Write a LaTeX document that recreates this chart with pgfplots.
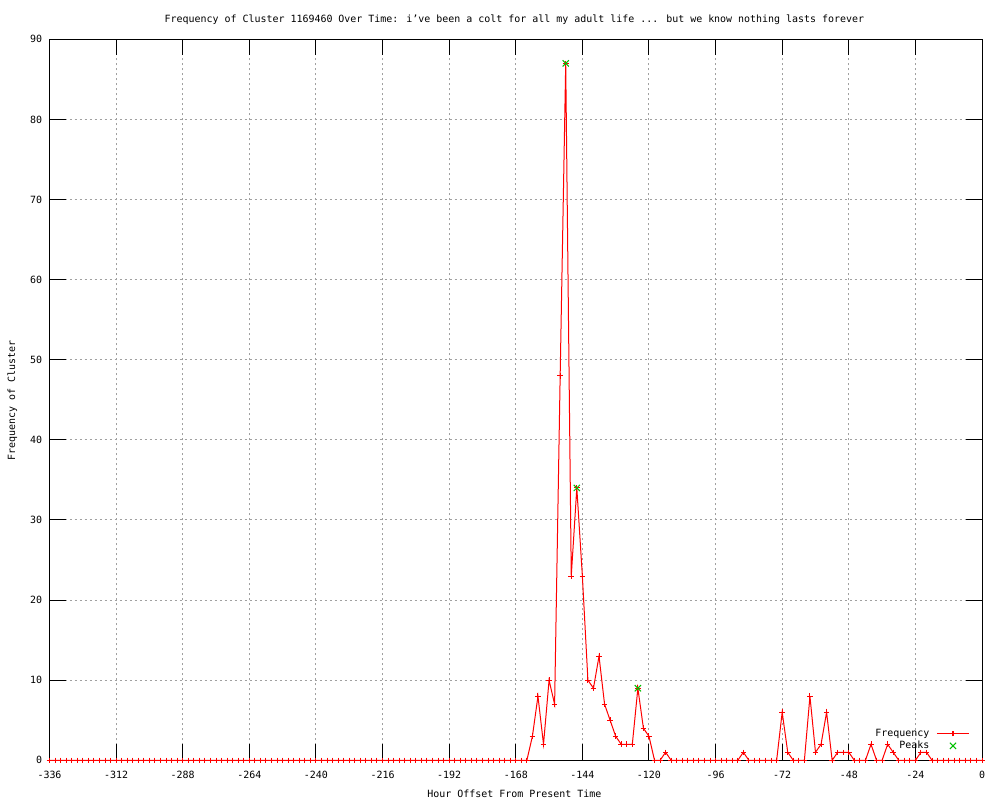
\documentclass[border=0pt]{standalone}
\usepackage{fontspec}
\setmainfont{DejaVu Sans Mono}
\usepackage{pgfplots}
\pgfplotsset{compat=1.18}
\usepackage{pgfplotstable}
\definecolor{gpred}{RGB}{255,0,0}
\definecolor{gpgreen}{RGB}{0,192,0}
\definecolor{gpgrid}{RGB}{160,160,160}
\newcommand\gp{\fontsize{4.98pt}{6pt}\selectfont}

\pgfplotstableread{
x y
-336 0
-334 0
-332 0
-330 0
-328 0
-326 0
-324 0
-322 0
-320 0
-318 0
-316 0
-314 0
-312 0
-310 0
-308 0
-306 0
-304 0
-302 0
-300 0
-298 0
-296 0
-294 0
-292 0
-290 0
-288 0
-286 0
-284 0
-282 0
-280 0
-278 0
-276 0
-274 0
-272 0
-270 0
-268 0
-266 0
-264 0
-262 0
-260 0
-258 0
-256 0
-254 0
-252 0
-250 0
-248 0
-246 0
-244 0
-242 0
-240 0
-238 0
-236 0
-234 0
-232 0
-230 0
-228 0
-226 0
-224 0
-222 0
-220 0
-218 0
-216 0
-214 0
-212 0
-210 0
-208 0
-206 0
-204 0
-202 0
-200 0
-198 0
-196 0
-194 0
-192 0
-190 0
-188 0
-186 0
-184 0
-182 0
-180 0
-178 0
-176 0
-174 0
-172 0
-170 0
-168 0
-166 0
-164 0
-162 3
-160 8
-158 2
-156 10
-154 7
-152 48
-150 87
-148 23
-146 34
-144 23
-142 10
-140 9
-138 13
-136 7
-134 5
-132 3
-130 2
-128 2
-126 2
-124 9
-122 4
-120 3
-118 0
-116 0
-114 1
-112 0
-110 0
-108 0
-106 0
-104 0
-102 0
-100 0
-98 0
-96 0
-94 0
-92 0
-90 0
-88 0
-86 1
-84 0
-82 0
-80 0
-78 0
-76 0
-74 0
-72 6
-70 1
-68 0
-66 0
-64 0
-62 8
-60 1
-58 2
-56 6
-54 0
-52 1
-50 1
-48 1
-46 0
-44 0
-42 0
-40 2
-38 0
-36 0
-34 2
-32 1
-30 0
-28 0
-26 0
-24 0
-22 1
-20 1
-18 0
-16 0
-14 0
-12 0
-10 0
-8 0
-6 0
-4 0
-2 0
0 0
}\freqdata

\pgfplotstableread{
x y
-150 87
-146 34
-124 9
}\peakdata

\begin{document}
\begin{tikzpicture}[font=\gp]
\path[use as bounding box] (0,0) rectangle (500pt,400pt);
\begin{axis}[
  at={(24.75pt,19.85pt)}, anchor=south west,
  scale only axis, width=466.25pt, height=360.5pt,
  xmin=-336, xmax=0, ymin=0, ymax=90,
  xtick={-336,-312,...,0},
  xticklabels={-336,-312,-288,-264,-240,-216,-192,-168,-144,-120,-96,-72,-48,-24,0},
  ytick={0,10,...,90},
  yticklabels={0,10,20,30,40,50,60,70,80,90},
  tick align=inside, major tick length=8pt,
  tick style={black, line width=0.5pt},
  axis line style={black, line width=0.5pt},
  grid=major,
  major grid style={gpgrid, line width=0.5pt, dash pattern=on 1pt off 1.5pt},
  xticklabel style={font=\gp, anchor=base, inner sep=0pt, yshift=-9pt},
  yticklabel style={font=\gp, anchor=east, inner sep=0pt, xshift=-3.5pt},
  clip=false,
  legend plot pos=right,
  legend cell align=right,
  legend style={font=\gp, draw=none, fill=none, at={(0.9871,0.0135)}, anchor=south east,
    inner sep=0pt, row sep=1.8pt, column sep=3.5pt,
    nodes={inner sep=0pt, text height=3.7pt, text depth=0.6pt}},
]
\addplot[color=gpred, line width=0.5pt, mark=+, mark size=1.4pt,
  mark options={line width=0.5pt, solid},
  legend image code/.code={
    \path[draw=none, fill=none] (0pt,-1.6pt) rectangle (16pt,1.6pt);
    \draw[line width=0.6pt] (0pt,0pt) -- (16pt,0pt);
    \draw[line width=0.6pt] (8pt,-1.4pt) -- (8pt,1.4pt);}
  ] table[x=x,y=y]{\freqdata};
\addlegendentry{Frequency}
\addplot[only marks, color=gpgreen, mark=x, mark size=2.2pt, mark options={line width=0.5pt},
  legend image code/.code={
    \path[draw=none, fill=none] (0pt,-1.6pt) rectangle (16pt,1.6pt);
    \draw[line width=0.5pt] (6.45pt,-1.55pt) -- (9.55pt,1.55pt);
    \draw[line width=0.5pt] (6.45pt,1.55pt) -- (9.55pt,-1.55pt);}
  ] table[x=x,y=y]{\peakdata};
\addlegendentry{Peaks}
\end{axis}
\node[anchor=base] at (257.2pt,388.75pt) {Frequency of Cluster 1169460 Over Time: i’ve been a colt for all my adult life ... but we know nothing lasts forever};
\node[anchor=base] at (257.2pt,1.5pt) {Hour Offset From Present Time};
\node[rotate=90, anchor=base] at (7.5pt,199.9pt) {Frequency of Cluster};
\end{tikzpicture}
\end{document}
